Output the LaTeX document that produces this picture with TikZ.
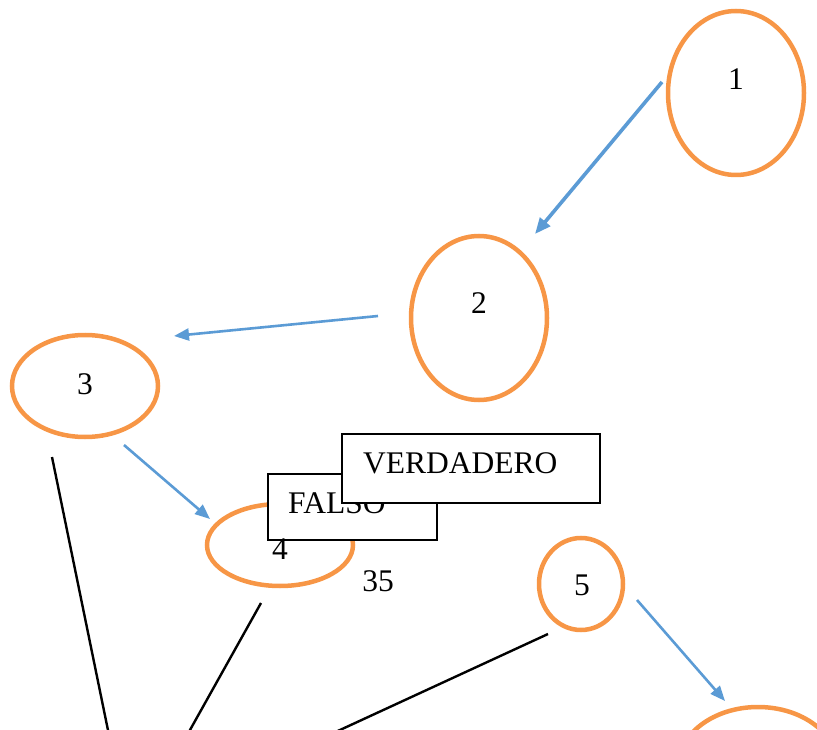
\documentclass[tikz,border=0pt]{standalone}
\usepackage{fontspec}
\setmainfont{Liberation Serif}
\usetikzlibrary{arrows.meta,shapes.geometric}
\definecolor{nodeorange}{HTML}{F79646}
\definecolor{flowblue}{HTML}{5B9BD5}
\begin{document}
\begin{tikzpicture}[x=1pt,y=-1pt,
  state/.style={ellipse, draw=nodeorange, line width=4.5pt, inner sep=0pt, fill=none},
  lbl/.style={inner sep=0pt, font=\fontsize{31.5}{38}\selectfont},
  flow/.style={draw=flowblue, line width=2.6pt, -{Triangle[length=15pt,width=12pt]}},
  thickflow/.style={flow, line width=3.6pt, -{Triangle[length=16pt,width=13pt]}},
  link/.style={draw=black, line width=2.4pt},
  answer/.style={draw=black, line width=2.2pt, fill=white, anchor=north west, inner sep=0pt}]
\useasboundingbox (0,0) rectangle (817,730);
\clip (0,0) rectangle (817,730);

% states
\node[state, minimum width=136pt, minimum height=164pt] (s1) at (736,93) {};
\node[state, minimum width=136pt, minimum height=164pt] (s2) at (479,318) {};
\node[state, minimum width=146pt, minimum height=102pt] (s3) at (85,386) {};
\node[state, minimum width=146pt, minimum height=82pt] (s4) at (280,545) {};
\node[state, minimum width=84pt, minimum height=92pt] (s5) at (581,584) {};
\node[state, minimum width=160pt, minimum height=120pt] (s6) at (758,767) {};

% answer boxes, the second one laid over the first
\node[answer, minimum width=169pt, minimum height=66pt] (falso) at (267,473) {};
\node[lbl, anchor=west] (tfalso) at (288,503) {FALSO};
\node[answer, minimum width=258pt, minimum height=69pt] (verdadero) at (341,433) {};
\node[lbl, anchor=west] (tverdadero) at (363,463) {VERDADERO};

% state labels
\node[lbl] (t1) at (736,79) {1};
\node[lbl] (t2) at (479,303) {2};
\node[lbl] (t3) at (85,384) {3};
\node[lbl] (t4) at (280,549) {4};
\node[lbl] (t5) at (582,585) {5};
\node[lbl] (t35) at (378,581) {35};

% connector end points
\coordinate (f1a) at (662,82);   \coordinate (f1b) at (535,234);
\coordinate (f2a) at (378,316);  \coordinate (f2b) at (174,336);
\coordinate (f3a) at (124,445);  \coordinate (f3b) at (210,519);
\coordinate (f5a) at (637,600);  \coordinate (f5b) at (725,701);
\coordinate (l1a) at (52,457);   \coordinate (l1b) at (110,740);
\coordinate (l2a) at (261,603);  \coordinate (l2b) at (184.4,740);
\coordinate (l3a) at (548,634);  \coordinate (l3b) at (318.3,740);

% flow arrows
\draw[thickflow] (f1a) -- (f1b);
\draw[flow] (f2a) -- (f2b);
\draw[flow] (f3a) -- (f3b);
\draw[flow] (f5a) -- (f5b);

% plain links
\draw[link] (l1a) -- (l1b);
\draw[link] (l2a) -- (l2b);
\draw[link] (l3a) -- (l3b);
\end{tikzpicture}
\end{document}
